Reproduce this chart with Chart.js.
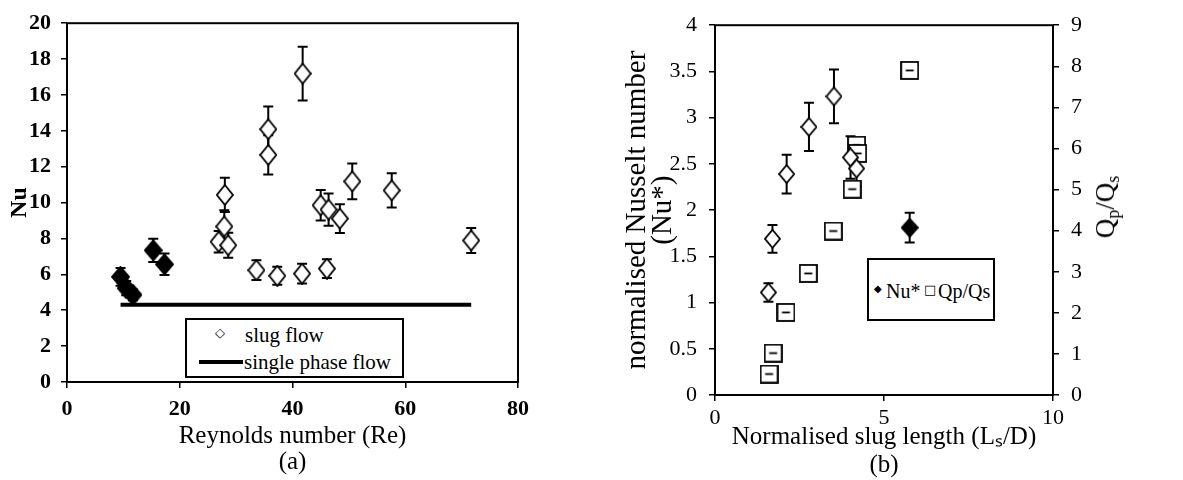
<!DOCTYPE html>
<html>
<head>
<meta charset="utf-8">
<script src="https://cdn.jsdelivr.net/npm/chart.js@4.4.0/dist/chart.umd.min.js"></script>
<style>
body{margin:0;background:#fff;width:1183px;height:480px;position:relative;overflow:hidden;font-family:"Liberation Serif",serif;color:#000;}
.wrap{position:absolute;top:0;}
.leg{position:absolute;border:2px solid #000;background:#fff;box-sizing:border-box;}
.leg span{position:absolute;white-space:nowrap;line-height:1;}
.sym{font-family:"DejaVu Sans",sans-serif;}
#qTitle{position:absolute;left:1107px;top:207px;transform:translate(-50%,-50%) rotate(-90deg);font-size:27px;white-space:nowrap;line-height:1;}
#qTitle sub{font-size:18px;vertical-align:-5px;}
</style>
</head>
<body>
<div class="wrap" style="left:0"><canvas id="chartA" width="600" height="480"></canvas></div>
<div class="wrap" style="left:600px"><canvas id="chartB" width="583" height="480"></canvas></div>

<div class="leg" style="left:185px;top:318px;width:219px;height:60px">
  <span class="sym" style="left:28px;top:6px;font-size:13px">◇</span>
  <span style="left:58px;top:5px;font-size:21px">slug flow</span>
  <span style="left:12px;top:40px;width:44px;height:4px;background:#000"></span>
  <span style="left:57px;top:32px;font-size:21px">single phase flow</span>
</div>

<div class="leg" style="left:867px;top:258px;width:128px;height:63px">
  <span class="sym" style="left:5px;top:24px;font-size:10px">◆</span>
  <span style="left:17px;top:21px;font-size:20px">Nu*</span>
  <span class="sym" style="left:55px;top:23px;font-size:13px">□</span>
  <span style="left:69px;top:21px;font-size:20px">Qp/Qs</span>
</div>

<div id="qTitle">Q<sub>p</sub>/Q<sub>s</sub></div>

<script>
// ---------- (a) Nu vs Re ----------
const reFilled = [9.5, 10.5, 11.7, 15.3, 17.3];
const nuFilled = [5.86, 5.23, 4.86, 7.34, 6.56];
const errFilled = [0.5, 0.4, 0.3, 0.65, 0.6];

const reSlug = [26.9, 27.9, 28.0, 28.6, 33.6, 35.7, 35.7, 37.3, 41.7, 41.8, 45.0, 46.1, 46.4, 48.4, 50.6, 57.6, 71.7];
const nuSlug = [7.82, 8.67, 10.43, 7.62, 6.23, 14.09, 12.66, 5.92, 6.04, 17.19, 9.85, 6.32, 9.61, 9.11, 11.18, 10.68, 7.89];
const errSlug = [0.6, 0.9, 0.95, 0.7, 0.55, 1.27, 1.1, 0.5, 0.55, 1.5, 0.85, 0.52, 0.9, 0.8, 1.0, 0.95, 0.7];

const reSingle = [9.5, 71.7];
const nuSingle = [4.3, 4.3];

const reTicks = [0, 20, 40, 60, 80];
const nuTicks = [0, 2, 4, 6, 8, 10, 12, 14, 16, 18, 20];

// ---------- (b) Nu* and Qp/Qs vs Ls/D ----------
const lsOpen = [1.58, 1.70, 2.12, 2.78, 3.52, 4.01, 4.19];
const nuStarOpen = [1.11, 1.69, 2.39, 2.90, 3.23, 2.57, 2.45];
const nuStarErrOpen = [0.1, 0.15, 0.21, 0.26, 0.29, 0.23, 0.2];
const lsFilled = [5.76];
const nuStarFilled = [1.81];
const nuStarErrFilled = [0.16];

const lsQ = [1.60, 1.72, 2.10, 2.76, 3.50, 4.06, 4.19, 4.22, 5.76];
const qRatio = [0.51, 1.02, 2.01, 2.96, 3.99, 5.01, 6.08, 5.88, 7.90];

const lsTicks = [0, 5, 10];
const nuStarTicks = [0, 0.5, 1, 1.5, 2, 2.5, 3, 3.5, 4];
const qTicks = [0, 1, 2, 3, 4, 5, 6, 7, 8, 9];

const serif = 'Liberation Serif';

function pts(xs, ys) {
  return xs.map((x, i) => ({x: x, y: ys[i]}));
}

function diamond(w, h, fill) {
  const c = document.createElement('canvas');
  c.width = w + 2; c.height = h + 2;
  const g = c.getContext('2d');
  g.beginPath();
  g.moveTo(c.width / 2, 1); g.lineTo(c.width - 1, c.height / 2);
  g.lineTo(c.width / 2, c.height - 1); g.lineTo(1, c.height / 2);
  g.closePath();
  g.fillStyle = fill; g.fill();
  g.lineWidth = 1.8; g.strokeStyle = '#000'; g.stroke();
  return c;
}

function square(s) {
  const c = document.createElement('canvas');
  c.width = s + 2; c.height = s + 2;
  const g = c.getContext('2d');
  g.fillStyle = '#fff';
  g.fillRect(1, 1, s, s);
  g.lineWidth = 1.8; g.strokeStyle = '#000';
  g.strokeRect(1, 1, s, s);
  g.beginPath();
  g.moveTo(c.width / 2 - 4, c.height / 2); g.lineTo(c.width / 2 + 4, c.height / 2);
  g.stroke();
  return c;
}

// error bars, drawn under the markers
const errorBars = {
  id: 'errorBars',
  beforeDatasetsDraw(chart) {
    const ctx = chart.ctx;
    chart.data.datasets.forEach(ds => {
      if (!ds.errors) return;
      const xs = chart.scales[ds.xAxisID || 'x'];
      const ys = chart.scales[ds.yAxisID || 'y'];
      ctx.save();
      ctx.strokeStyle = '#000';
      ctx.lineWidth = 2;
      ds.data.forEach((p, j) => {
        const e = ds.errors[j];
        const px = xs.getPixelForValue(p.x);
        const top = ys.getPixelForValue(p.y + e);
        const bot = ys.getPixelForValue(p.y - e);
        ctx.beginPath();
        ctx.moveTo(px, top); ctx.lineTo(px, bot);
        ctx.moveTo(px - 5, top); ctx.lineTo(px + 5, top);
        ctx.moveTo(px - 5, bot); ctx.lineTo(px + 5, bot);
        ctx.stroke();
      });
      ctx.restore();
    });
  }
};

const frame = {
  id: 'frame',
  afterDraw(chart) {
    const a = chart.chartArea, ctx = chart.ctx;
    ctx.save();
    ctx.strokeStyle = '#000';
    ctx.lineWidth = 2;
    ctx.strokeRect(a.left, a.top, a.right - a.left, a.bottom - a.top);
    ctx.restore();
  }
};

function tickSet(arr) {
  return s => { s.ticks = arr.map(v => ({value: v})); };
}

const plain = v => String(v);
const gridOpts = {drawOnChartArea: false, color: '#000', lineWidth: 1.5, tickLength: 6};

new Chart(document.getElementById('chartA'), {
  type: 'scatter',
  data: {
    datasets: [
      {label: 'slug flow', data: pts(reFilled, nuFilled), errors: errFilled,
       pointStyle: diamond(17, 20, '#000'), order: 0},
      {label: 'slug flow', data: pts(reSlug, nuSlug), errors: errSlug,
       pointStyle: diamond(16, 20, '#fff'), order: 1},
      {label: 'single phase flow', data: pts(reSingle, nuSingle), showLine: true,
       borderColor: '#000', borderWidth: 4, pointRadius: 0, order: 2}
    ]
  },
  options: {
    responsive: false, animation: false, devicePixelRatio: 1,
    layout: {padding: {top: 21, right: 82, left: 0, bottom: 0}},
    plugins: {legend: {display: false}, tooltip: {enabled: false}},
    scales: {
      x: {
        type: 'linear', min: 0, max: 80,
        afterBuildTicks: tickSet(reTicks),
        afterFit: s => { s.height = 98; },
        border: {display: false},
        grid: gridOpts,
        ticks: {color: '#000', font: {family: serif, size: 22, weight: 'bold'}, padding: 8, maxRotation: 0, callback: plain},
        title: {display: true, text: ['Reynolds number (Re)', '(a)'], color: '#000',
                font: {family: serif, size: 25, lineHeight: 1.05}, padding: {top: 0, bottom: 4}}
      },
      y: {
        type: 'linear', min: 0, max: 20,
        afterBuildTicks: tickSet(nuTicks),
        afterFit: s => { s.width = 67; },
        border: {display: false},
        grid: gridOpts,
        ticks: {color: '#000', font: {family: serif, size: 22, weight: 'bold'}, padding: 10, callback: plain},
        title: {display: true, text: 'Nu', color: '#000',
                font: {family: serif, size: 24, weight: 'bold', lineHeight: 1.05}, padding: {top: 7, bottom: 0}}
      }
    }
  },
  plugins: [errorBars, frame]
});

new Chart(document.getElementById('chartB'), {
  type: 'scatter',
  data: {
    datasets: [
      {label: 'Nu*', data: pts(lsFilled, nuStarFilled), errors: nuStarErrFilled,
       pointStyle: diamond(16, 18, '#000'), yAxisID: 'y', order: 0},
      {label: 'Nu*', data: pts(lsOpen, nuStarOpen), errors: nuStarErrOpen,
       pointStyle: diamond(15, 18, '#fff'), yAxisID: 'y', order: 1},
      {label: 'Qp/Qs', data: pts(lsQ, qRatio),
       pointStyle: square(17), yAxisID: 'y2', order: 2}
    ]
  },
  options: {
    responsive: false, animation: false, devicePixelRatio: 1,
    layout: {padding: {top: 17, right: 0, left: 0, bottom: 0}},
    plugins: {legend: {display: false}, tooltip: {enabled: false}},
    scales: {
      x: {
        type: 'linear', min: 0, max: 10,
        afterBuildTicks: tickSet(lsTicks),
        afterFit: s => { s.height = 85; },
        border: {display: false},
        grid: gridOpts,
        ticks: {color: '#000', font: {family: serif, size: 22}, padding: 4, maxRotation: 0, callback: plain},
        title: {display: true, text: ['Normalised slug length (Lₛ/D)', '(b)'], color: '#000',
                font: {family: serif, size: 25, lineHeight: 1.1}, padding: {top: 0, bottom: 1}}
      },
      y: {
        type: 'linear', position: 'left', min: 0, max: 4,
        afterBuildTicks: tickSet(nuStarTicks),
        afterFit: s => { s.width = 115; },
        border: {display: false},
        grid: gridOpts,
        ticks: {color: '#000', font: {family: serif, size: 22}, padding: 12, callback: plain},
        title: {display: true, text: ['normalised Nusselt number', '(Nu*)'], color: '#000',
                font: {family: serif, size: 29, lineHeight: 0.9}, padding: {top: 24, bottom: 0}}
      },
      y2: {
        type: 'linear', position: 'right', min: 0, max: 9,
        afterBuildTicks: tickSet(qTicks),
        afterFit: s => { s.width = 130; },
        border: {display: false},
        grid: gridOpts,
        ticks: {color: '#000', font: {family: serif, size: 22}, padding: 12, callback: plain},
        title: {display: false}
      }
    }
  },
  plugins: [errorBars, frame]
});
</script>
</body>
</html>
